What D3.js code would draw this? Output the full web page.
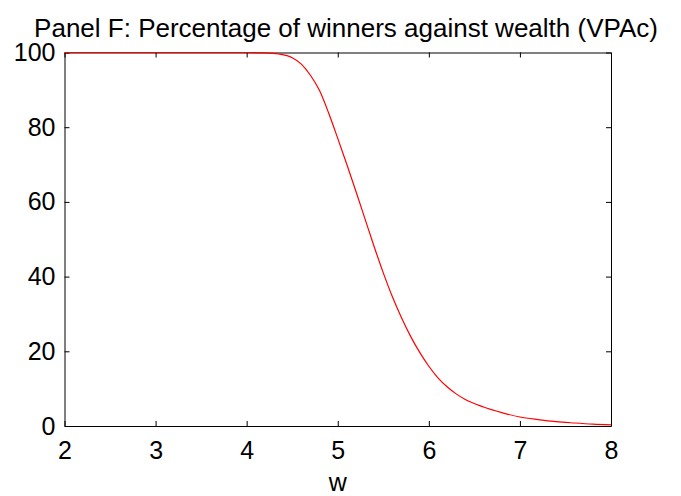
<!DOCTYPE html>
<html>
<meta charset="utf-8">
<title>Panel F</title>
<style>
  body { margin: 0; background: #fff; }
  svg { display: block; font-family: "Liberation Sans", Arial, sans-serif; }
  .axis path, .axis line { stroke: #000; stroke-width: 1; fill: none; }
  .axis text { font-size: 25px; fill: #000; }
</style>
<script src="https://d3js.org/d3.v7.min.js"></script>
<body>
<script>
// values
var wealth = [2, 3, 4, 4.2, 4.35, 4.5, 4.6, 4.7, 4.8, 4.9, 5.0, 5.1, 5.2, 5.3, 5.4, 5.5,
              5.6, 5.7, 5.8, 5.9, 6.0, 6.1, 6.2, 6.3, 6.4, 6.6, 6.8, 7.0, 7.2, 7.4, 7.6, 7.8, 8.0];
var winners = [100, 100, 100, 99.9, 99.6, 98.6, 96.9, 93.9, 89.8, 83.8, 77.0, 70.0, 62.8, 55.4, 48.0, 41.0,
               34.6, 29.0, 24.0, 19.7, 16.0, 12.9, 10.5, 8.6, 7.1, 5.1, 3.6, 2.4, 1.7, 1.15, 0.8, 0.5, 0.3];
var xTicks = [2, 3, 4, 5, 6, 7, 8];
var yTicks = [0, 20, 40, 60, 80, 100];

var width = 681, height = 496;
var m = {left: 64.5, right: 611, top: 52.5, bottom: 426};

var svg = d3.select('body').append('svg')
    .attr('width', width)
    .attr('height', height);

var x = d3.scaleLinear().domain([2, 8]).range([m.left, m.right]);
var y = d3.scaleLinear().domain([0, 100]).range([m.bottom, m.top]);
var fmt = d3.format('d');

// box axes, ticks pointing in
svg.append('g').attr('class', 'axis')
    .attr('transform', 'translate(0,' + m.bottom + ')')
    .call(d3.axisBottom(x).tickValues(xTicks).tickFormat(fmt).tickSizeInner(-5).tickSizeOuter(0).tickPadding(15));
svg.append('g').attr('class', 'axis')
    .attr('transform', 'translate(0,' + m.top + ')')
    .call(d3.axisTop(x).tickValues(xTicks).tickSizeInner(-5).tickSizeOuter(0).tickFormat(''));
svg.append('g').attr('class', 'axis')
    .attr('transform', 'translate(' + m.left + ',0)')
    .call(d3.axisLeft(y).tickValues(yTicks).tickFormat(fmt).tickSizeInner(-5).tickSizeOuter(0).tickPadding(9));
svg.append('g').attr('class', 'axis')
    .attr('transform', 'translate(' + m.right + ',0)')
    .call(d3.axisRight(y).tickValues(yTicks).tickSizeInner(-5).tickSizeOuter(0).tickFormat(''));

var data = wealth.map(function(w, i) { return {w: w, v: winners[i]}; });

var line = d3.line()
    .x(function(d) { return x(d.w); })
    .y(function(d) { return y(d.v); })
    .curve(d3.curveMonotoneX);

svg.append('path')
    .datum(data)
    .attr('d', line)
    .attr('fill', 'none')
    .attr('stroke', '#ff0000')
    .attr('stroke-width', 1.2);

svg.append('text')
    .attr('x', 346)
    .attr('y', 37)
    .attr('text-anchor', 'middle')
    .style('font-size', '26px')
    .text('Panel F: Percentage of winners against wealth (VPAc)');

svg.append('text')
    .attr('x', (m.left + m.right) / 2)
    .attr('y', 491)
    .attr('text-anchor', 'middle')
    .style('font-size', '25px')
    .text('w');
</script>
</body>
</html>
